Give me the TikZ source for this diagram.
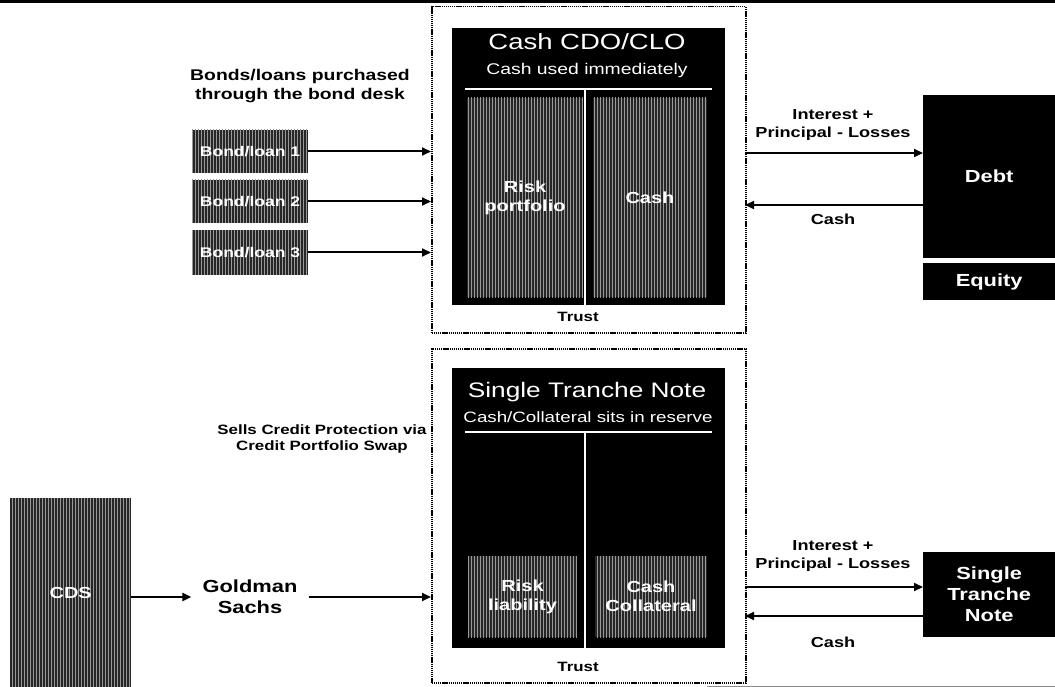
\documentclass[tikz,border=0pt]{standalone}
\usepackage{fontspec}
\setmainfont{Liberation Sans}[FakeStretch=1.25]
\usetikzlibrary{arrows.meta,patterns}
\newcommand{\fsz}[1]{\fontsize{#1}{1.2\dimexpr #1pt\relax}\selectfont}
\begin{document}
\begin{tikzpicture}[x=1pt,y=-1pt,
  lbl/.style={font=\bfseries, align=center, inner sep=0pt},
  ttl/.style={text=white, align=center, inner sep=0pt},
  blkbox/.style={fill=black, text=white, inner sep=0pt, anchor=north west, font=\bfseries, align=center},
  patbox/.style={fill=black!85, postaction={pattern=vertical lines, pattern color=black!40},
     text=white, inner sep=0pt, font=\bfseries, align=center},
  trustbox/.style={draw=black, dash pattern=on 1.3pt off 0.8pt, line width=1.5pt, inner sep=0pt, anchor=north west},
  arr/.style={-{Triangle[length=9pt,width=8pt]}, line width=2pt},
  sep/.style={white, line width=1.3pt}
]
\useasboundingbox (0,0) rectangle (1055,687);
\fill[black] (0,0) rectangle (1055,3);
\draw[black!45, line width=0.8pt] (707,686) -- (1055,686);

% ---------- top: Cash CDO/CLO ----------
\node[trustbox, minimum width=314pt, minimum height=326pt] (trust1) at (431,6) {};
\node[blkbox, minimum width=273pt, minimum height=277pt] (cdo) at (452,28) {};
\node[ttl, font=\fsz{22}] (cdot) at (587,42) {Cash CDO/CLO};
\node[ttl, font=\fsz{15.5}] (cdos) at (587,70) {Cash used immediately};
\draw[sep] (465,89) -- (712,89);
\draw[sep] (585,89) -- (585,305);
\node[patbox, minimum width=116pt, minimum height=199pt, font=\bfseries\fsz{16}] (riskp) at (525,197.5) {\fontsize{16}{25}\selectfont Risk\\portfolio};
\node[patbox, minimum width=114pt, minimum height=199pt, font=\bfseries\fsz{16}] (cashp) at (650,197.5) {Cash};
\node[lbl, font=\bfseries\fsz{13.5}] (trust1l) at (578,317) {Trust};

\node[lbl, font=\bfseries\fsz{15.5}] (bondlbl) at (300,86)
  {\fontsize{15.5}{22}\selectfont Bonds/loans purchased\\through the bond desk};
\node[patbox, minimum width=116pt, minimum height=43pt, font=\bfseries\fsz{14}] (bond1) at (250,151.5) {Bond/loan 1};
\node[patbox, minimum width=116pt, minimum height=43pt, font=\bfseries\fsz{14}] (bond2) at (250,201.5) {Bond/loan 2};
\node[patbox, minimum width=116pt, minimum height=44pt, font=\bfseries\fsz{14}] (bond3) at (250,252.5) {Bond/loan 3};
\draw[arr] (bond1.east) -- (bond1.east -| trust1.west);
\draw[arr] (bond2.east) -- (bond2.east -| trust1.west);
\draw[arr] (bond3.east) -- (bond3.east -| trust1.west);

\node[blkbox, minimum width=132pt, minimum height=163pt, font=\bfseries\fsz{17.5}] (debt) at (923,95) {Debt};
\node[blkbox, minimum width=132pt, minimum height=37pt, font=\bfseries\fsz{17.5}] (equity) at (923,263) {Equity};
\coordinate (i1) at (745,153);
\coordinate (c1) at (745,205);
\draw[arr] (i1) -- (i1 -| debt.west);
\draw[arr] (c1 -| debt.west) -- (c1);
\node[lbl, font=\bfseries\fsz{14.5}] (int1) at (833,125) {\fontsize{14.5}{20}\selectfont Interest +\\Principal - Losses};
\node[lbl, font=\bfseries\fsz{14.5}] (cash1) at (833,219) {Cash};

% ---------- bottom: Single Tranche Note ----------
\node[trustbox, minimum width=314pt, minimum height=334pt] (trust2) at (431,348) {};
\node[blkbox, minimum width=273pt, minimum height=280pt] (stnbox) at (452,368) {};
\node[ttl, font=\fsz{21}] (stnt) at (587,392) {Single Tranche Note};
\node[ttl, font=\fsz{15}] (stns) at (588,417) {Cash/Collateral sits in reserve};
\draw[sep] (465,432) -- (712,432);
\draw[sep] (585,432) -- (585,648);
\node[patbox, minimum width=109pt, minimum height=81pt, font=\bfseries\fsz{16}] (riskl) at (522.5,596.5) {\fontsize{16}{22}\selectfont Risk\\liability};
\node[patbox, minimum width=112pt, minimum height=81pt, font=\bfseries\fsz{16}] (cashc) at (651,596.5) {\fontsize{16}{22}\selectfont Cash\\Collateral};
\node[lbl, font=\bfseries\fsz{13.5}] (trust2l) at (578,667) {Trust};

\node[lbl, font=\bfseries\fsz{13.5}] (sells) at (322,439) {\fontsize{13.5}{17}\selectfont Sells Credit Protection via\\Credit Portfolio Swap};
\node[patbox, anchor=north west, minimum width=121pt, minimum height=189pt, font=\bfseries\fsz{16}] (cds) at (10,498) {CDS};
\node[lbl, font=\bfseries\fsz{17.5}, inner xsep=11pt] (gs) at (250,597) {\fontsize{17.5}{25}\selectfont Goldman\\Sachs};
\draw[arr] (cds.east |- gs) -- (gs.west);
\draw[arr] (gs.east) -- (gs.east -| trust2.west);

\node[blkbox, minimum width=132pt, minimum height=85pt, font=\bfseries\fsz{17.5}] (stn) at (923,552) {\fontsize{17.5}{24.5}\selectfont Single\\Tranche\\Note};
\coordinate (i2) at (745,587);
\coordinate (c2) at (745,616);
\draw[arr] (i2) -- (i2 -| stn.west);
\draw[arr] (c2 -| stn.west) -- (c2);
\node[lbl, font=\bfseries\fsz{14.5}] (int2) at (833,556) {\fontsize{14.5}{20}\selectfont Interest +\\Principal - Losses};
\node[lbl, font=\bfseries\fsz{14.5}] (cash2) at (833,642) {Cash};
\end{tikzpicture}
\end{document}
